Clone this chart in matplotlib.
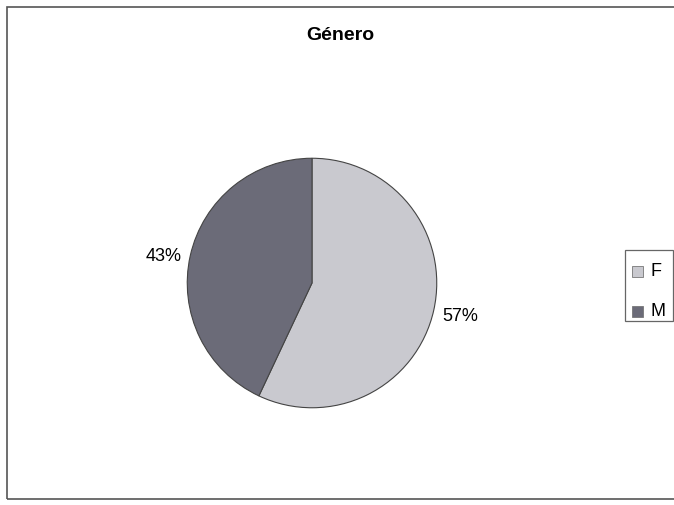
import matplotlib.pyplot as plt
from matplotlib.patches import Rectangle

plt.rcParams['font.family'] = ['Liberation Sans', 'DejaVu Sans']

# Data
categories = ["F", "M"]
values = [57, 43]
colors = ["#c9c9cf", "#6b6b78"]

W, H = 674, 505
fig = plt.figure(figsize=(W / 100, H / 100), dpi=100)

# chart border (right side runs off the picture)
fig.patches.append(Rectangle((7 / W, 6 / H), 700 / W, 492 / H,
                             transform=fig.transFigure, fill=False,
                             edgecolor="#555555", linewidth=1.2))

ax = fig.add_axes([186 / W, 96 / H, 252 / W, 252 / H])
wedges, texts = ax.pie(values, colors=colors, startangle=90, counterclock=False,
                       labels=[f"{v}%" for v in values], labeldistance=1.22,
                       wedgeprops=dict(edgecolor="#444444", linewidth=0.8),
                       textprops=dict(fontsize=13))
for t in texts:
    t.set_horizontalalignment("center")
# Excel put the left label a bit lower
x0, y0 = texts[1].get_position()
texts[1].set_position((x0, y0 - 0.05))
ax.set_xlim(-1.01, 1.01)
ax.set_ylim(-1.01, 1.01)
ax.set_aspect("equal")

fig.text(340 / W, 1 - 35 / H, "Género", ha="center", va="center",
         fontsize=14, fontweight="bold")

# legend box
fig.patches.append(Rectangle((625 / W, 1 - 321 / H), 48 / W, 71 / H,
                             transform=fig.transFigure, facecolor="white",
                             edgecolor="#666666", linewidth=0.9))
for i, (cat, col) in enumerate(zip(categories, colors)):
    yc = 271 + i * 40
    fig.patches.append(Rectangle((632 / W, 1 - (yc + 5.5) / H), 11 / W, 11 / H,
                                 transform=fig.transFigure, facecolor=col,
                                 edgecolor="#777777", linewidth=0.6))
    fig.text(651 / W, 1 - yc / H, cat, ha="left", va="center", fontsize=13)

fig.savefig("out.png", dpi=100)
